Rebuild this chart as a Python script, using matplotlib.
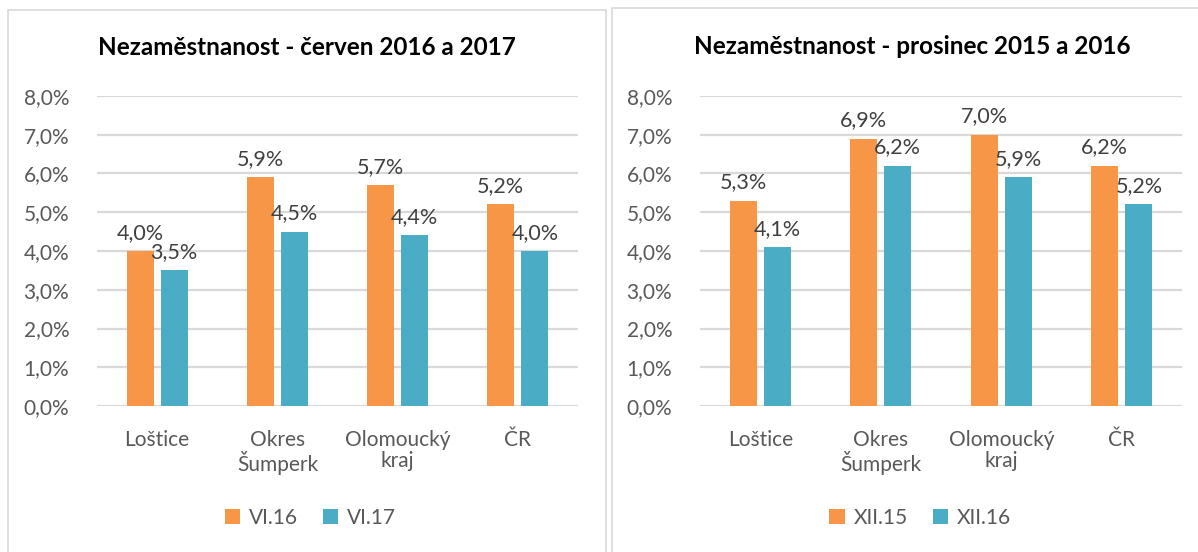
import matplotlib.pyplot as plt
from matplotlib.patches import Rectangle
import numpy as np

categories = ["Loštice", "Okres\nŠumperk", "Olomoucký\nkraj", "ČR"]

jun_labels = ["VI.16", "VI.17"]
jun_2016 = [4.0, 5.9, 5.7, 5.2]
jun_2017 = [3.5, 4.5, 4.4, 4.0]

dec_labels = ["XII.15", "XII.16"]
dec_2015 = [5.3, 6.9, 7.0, 6.2]
dec_2016 = [4.1, 6.2, 5.9, 5.2]

ORANGE = "#F79646"
TEAL = "#4BACC6"
GRID = "#D9D9D9"
TXT = "#595959"
LBL = "#404040"

plt.rcParams['font.family'] = ['Lato', 'DejaVu Sans']

fig = plt.figure(figsize=(11.98, 5.52), dpi=100)
W, H = 1198, 552

# panel frames
fig.patches.append(Rectangle((8 / W, -0.05), 598 / W, (H - 10) / H + 0.05,
                             transform=fig.transFigure, fill=False,
                             edgecolor=GRID, linewidth=1.2))
fig.patches.append(Rectangle((612 / W, -0.05), 590 / W, (H - 8) / H + 0.05,
                             transform=fig.transFigure, fill=False,
                             edgecolor=GRID, linewidth=1.2))


def draw(ax_rect, title, title_xy, s1, s2, labels, leg_x):
    ax = fig.add_axes(ax_rect)
    x = np.arange(len(categories))
    w = 0.224
    off = 0.142
    b1 = ax.bar(x - off, s1, w, color=ORANGE, label=labels[0])
    b2 = ax.bar(x + off, s2, w, color=TEAL, label=labels[1])
    for bars, vals in ((b1, s1), (b2, s2)):
        for r, v in zip(bars, vals):
            ax.annotate(f"{v:.1f}%".replace(".", ","),
                        (r.get_x() + r.get_width() / 2, v),
                        xytext=(0, 6), textcoords="offset points",
                        ha="center", va="bottom", fontsize=15.5, color=LBL)
    ax.set_xlim(-0.5, len(categories) - 0.5)
    ax.set_ylim(0, 8)
    ax.set_yticks(np.arange(0, 9, 1))
    ax.set_yticklabels([f"{t},0%" for t in range(9)])
    ax.set_xticks(x)
    ax.set_xticklabels(categories, linespacing=1.08)
    ax.tick_params(axis="both", length=0, labelsize=15, labelcolor=TXT)
    ax.tick_params(axis="x", pad=17)
    ax.tick_params(axis="y", pad=20)
    for s in ax.spines.values():
        s.set_visible(False)
    ax.grid(axis="y", color=GRID, linewidth=1.6)
    ax.set_axisbelow(True)
    fig.text(title_xy[0] / W, 1 - title_xy[1] / H, title, ha="center",
             va="center", fontsize=17.5, fontweight="bold", color="black")
    fig.legend(handles=[b1, b2], labels=labels, loc="center",
               bbox_to_anchor=(leg_x / W, 1 - 518 / H), ncol=2, frameon=False,
               fontsize=15, labelcolor=TXT, handlelength=0.75,
               handleheight=0.75, handletextpad=0.4, columnspacing=1.2)
    return ax


draw([97 / W, (H - 406) / H, 481 / W, 310 / H],
     "Nezaměstnanost - červen 2016 a 2017", (307, 48),
     jun_2016, jun_2017, jun_labels, 310)
draw([700 / W, (H - 406) / H, 482 / W, 310 / H],
     "Nezaměstnanost - prosinec 2015 a 2016", (912, 47),
     dec_2015, dec_2016, dec_labels, 920)

fig.savefig("out.png", dpi=100, facecolor="white")
